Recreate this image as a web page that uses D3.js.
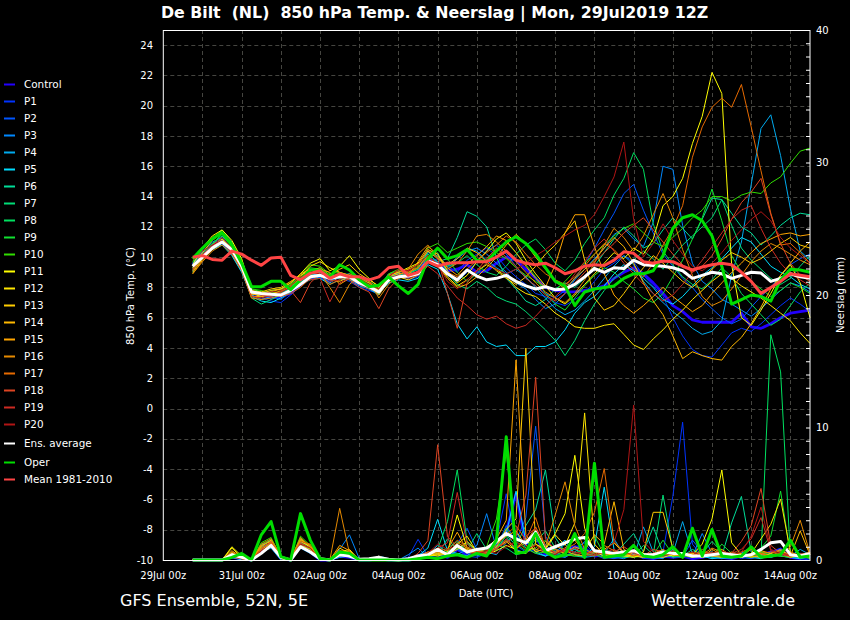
<!DOCTYPE html>
<html>
<head>
<meta charset="utf-8">
<script src="https://cdn.jsdelivr.net/npm/d3@7"></script>
<style>
  body { margin: 0; background: #000; }
  svg { display: block; font-family: "DejaVu Sans", sans-serif; }
</style>
</head>
<body>
<svg id="chart" width="850" height="620"></svg>
<script>
// ---------------------------------------------------------------------------
// data (6-hourly, 29Jul 18z -> 14Aug 12z)
var runStart = '2019-07-29T18:00:00Z';
var stepHours = 6;
var stepCount = 64;

var memberNames = ['Control','P1','P2','P3','P4','P5','P6','P7','P8','P9','P10',
  'P11','P12','P13','P14','P15','P16','P17','P18','P19','P20'];

var tempTicks = [-10,-8,-6,-4,-2,0,2,4,6,8,10,12,14,16,18,20,22,24];
var rainTicks = [0,10,20,30,40];
var dateTicks = ['2019-07-29','2019-07-31','2019-08-02','2019-08-04','2019-08-06',
  '2019-08-08','2019-08-10','2019-08-12','2019-08-14'];

// 850 hPa temperature (°C)
var tControl = [9.5,10.3,10.8,11.0,10.3,9.2,7.6,7.5,7.3,7.4, 7.6,8.2,8.6,8.7,8.4,8.8,8.6,8.2,8.0,7.8,
  8.8,8.9,8.7,9.0,9.9,9.6,9.1,9.2,9.5,9.0, 9.1,9.6,10.0,9.8,9.2,8.6,8.0,7.8,7.7,7.7,
  7.8,7.9,8.1,8.6,9.0,9.3,8.9,8.3,7.6,6.8, 6.4,5.85,5.7,5.7,5.7,5.7,6.3,5.4,5.3,5.6, 6.0,6.3,6.4,6.5];
var tP1 = [9.6,10.2,10.9,11.2,10.4,9.3,7.5,7.3,7.1,7.0, 7.5,8.1,8.8,8.9,8.5,8.6,8.4,8.0,7.8,7.6,
  8.6,8.8,8.5,8.7,9.6,9.9,9.4,9.0,9.8,10.2, 10.6,10.1,9.3,8.7,8.2,7.6,7.4,7.0,6.8,7.2,
  7.6,8.4,9.2,9.6,10.1,9.7,8.8,8.1,7.4,6.0, 4.8,3.9,3.5,3.4,4.2,5.0,5.3,5.1,5.6,6.2, 6.8,7.3,6.9,6.4];
var tP2 = [9.3,10.1,10.7,11.1,10.6,9.5,7.8,7.6,7.4,7.2, 7.7,8.3,8.9,9.0,8.4,8.8,8.9,8.3,8.1,7.9,
  8.7,9.0,8.8,8.9,9.8,9.5,8.8,8.4,9.0,9.7, 10.4,10.8,10.2,9.4,8.6,8.1,7.6,7.3,7.8,8.6,
  9.5,10.6,11.8,12.9,14.2,14.8,13.1,11.6,10.2,9.4, 8.6,8.0,7.2,6.6,6.0,5.6,5.9,6.7,7.4,8.0, 8.8,9.5,9.9,10.2];
var tP3 = [9.5,10.4,11.0,11.3,10.5,9.4,7.7,7.4,7.6,7.5, 7.9,8.4,8.6,8.7,8.5,8.9,8.8,8.4,8.2,7.9,
  8.6,8.9,8.6,9.1,10.0,9.7,9.2,9.9,10.4,10.6, 10.2,9.6,9.0,8.3,7.9,7.2,6.6,6.9,7.6,8.5,
  9.2,9.9,10.6,11.5,11.9,11.2,10.7,12.3,16.0,15.8, 12.1,9.6,8.4,7.9,7.2,6.9,6.5,6.1,6.6,7.2, 7.8,8.3,8.1,7.7];
var tP4 = [9.2,10.0,10.5,10.9,10.2,9.1,7.5,7.2,7.4,7.6, 8.0,8.5,8.9,8.8,8.3,8.7,8.5,8.1,7.9,7.5,
  8.4,8.7,8.9,9.2,10.3,10.1,9.4,10.0,10.6,10.4, 9.8,9.3,8.9,9.2,8.7,8.0,7.3,6.6,6.2,6.5,
  7.1,7.8,8.6,9.4,10.1,9.5,8.4,7.6,7.0,6.4, 5.9,5.3,4.9,5.1,5.8,8.8,11.0,14.8,18.5,19.4, 16.7,13.2,10.4,9.8];
var tP5 = [9.1,9.9,10.5,10.8,10.1,9.0,7.4,7.1,7.0,7.3, 7.7,8.3,8.7,8.6,8.2,8.5,8.6,8.2,7.9,7.6,
  8.3,8.5,8.4,8.6,9.5,9.2,7.6,5.6,4.6,5.4, 4.4,4.1,4.2,3.5,3.5,4.1,4.1,4.4,5.2,6.3,
  7.0,7.4,8.1,8.9,9.5,9.1,8.6,8.0,7.2,6.9, 7.4,8.1,8.8,9.3,9.9,10.6,11.3,11.0,10.2,9.4, 9.0,8.7,8.2,7.9];
var tP6 = [9.4,10.3,10.9,11.4,10.7,9.6,7.6,7.7,7.5,7.6, 7.9,8.2,8.5,8.6,8.9,8.7,8.5,8.4,8.1,7.7,
  8.5,8.6,8.9,9.3,10.2,9.7,9.9,11.3,13.0,12.7, 12.0,10.0,8.6,7.9,7.1,6.8,7.2,7.9,8.3,8.0,
  8.6,9.4,10.3,11.2,12.0,11.4,10.6,10.9,11.8,12.6, 11.9,11.2,12.5,13.9,13.8,12.9,12.0,11.6,10.8,11.4, 12.1,12.6,12.9,12.8];
var tP7 = [9.0,10.1,10.8,11.6,10.9,9.3,7.3,6.9,7.2,7.5, 8.0,8.6,8.9,9.0,8.7,8.9,8.6,8.5,8.3,7.8,
  8.7,8.9,8.8,8.9,9.9,10.3,8.9,8.2,7.9,8.4, 8.0,7.4,7.1,6.9,6.4,5.8,5.2,4.5,3.5,4.5,
  5.8,6.9,7.8,8.6,9.1,9.8,10.4,9.9,9.2,10.0, 10.8,11.4,12.0,12.6,13.8,12.1,10.6,9.8,9.2,8.6, 8.2,8.6,9.4,10.1];
var tP8 = [9.6,10.5,11.2,11.8,11.0,9.7,7.8,7.6,7.8,7.9, 8.1,8.4,8.8,9.1,8.6,8.7,8.9,8.6,8.4,8.0,
  8.9,9.1,8.9,9.2,10.4,10.0,9.4,9.6,10.1,9.5, 9.0,8.8,9.4,10.2,10.8,11.2,10.5,9.6,9.1,9.8,
  10.9,11.8,12.6,14.1,15.2,16.9,15.8,12.2,10.4,9.5, 8.7,8.2,7.9,8.5,9.3,8.7,7.6,6.9,6.2,5.5, 5.9,6.8,7.7,8.3];
var tP9 = [9.3,10.2,10.9,11.5,10.8,9.5,7.9,7.7,7.6,7.8, 8.2,8.7,9.3,9.2,8.8,8.6,8.7,8.3,8.0,7.6,
  8.5,8.8,8.7,8.9,9.7,10.5,9.9,9.0,8.4,8.9, 9.6,10.4,11.0,10.3,9.5,8.7,7.6,6.9,6.5,7.3,
  8.1,8.8,9.3,9.0,8.4,7.9,7.3,7.0,7.6,8.7, 9.8,11.2,12.6,14.5,12.4,10.1,9.0,8.4,7.9,7.4, 7.8,8.3,8.0,7.6];
var tP10 = [9.7,10.6,11.3,11.7,10.9,9.8,7.9,7.8,7.6,7.7, 8.2,8.8,9.5,9.4,8.9,9.0,8.8,8.5,8.2,7.8,
  8.9,9.2,9.0,9.4,10.6,10.9,10.3,10.6,10.9,11.0, 10.7,10.3,9.9,9.3,8.8,8.4,8.0,7.8,8.4,9.1,
  9.6,10.2,10.8,11.4,11.9,12.2,11.6,11.0,10.7,11.3, 11.9,12.6,13.1,14.0,14.0,13.7,14.1,14.3,14.2,14.9, 15.3,16.2,17.0,17.2];
var tP11 = [9.5,10.6,11.4,11.8,11.1,9.9,7.7,7.5,7.7,7.9, 8.3,8.9,9.6,9.9,9.1,9.4,10.1,9.2,8.6,8.0,
  8.8,9.0,9.3,9.6,10.5,10.2,9.1,8.3,8.8,9.7, 10.4,11.2,11.6,10.9,9.8,8.9,8.1,7.3,6.9,7.5,
  8.2,8.9,9.6,10.3,9.9,10.6,10.2,11.2,13.4,14.0, 15.2,17.5,19.3,22.2,20.8,9.5,6.0,5.5,6.5,7.6, 8.8,9.5,8.3,6.0];
var tP12 = [9.2,10.0,10.7,11.2,10.5,9.4,7.6,7.4,7.5,7.8, 8.1,8.7,9.4,9.7,9.3,9.0,8.8,8.4,8.1,7.8,
  8.6,8.7,8.5,8.8,9.8,9.5,8.7,8.1,8.5,9.1, 9.5,9.2,8.7,8.0,7.6,7.4,6.9,6.3,5.9,5.4,
  5.3,5.3,5.5,5.6,4.9,4.2,3.9,4.6,5.2,5.9, 6.5,7.2,7.8,8.4,8.9,8.6,8.1,7.7,7.3,6.8, 6.3,5.8,5.0,4.3];
var tP13 = [9.3,10.3,11.1,11.6,10.8,9.6,7.8,7.7,7.9,8.0, 8.4,8.8,9.1,9.3,8.8,9.2,9.5,8.9,8.5,8.1,
  8.8,9.0,9.2,9.5,10.4,9.9,9.5,9.9,10.6,10.3, 9.7,9.1,8.6,8.2,8.7,9.4,10.2,10.8,11.6,12.4,
  9.8,7.3,6.5,6.8,7.6,8.5,9.3,10.1,9.6,9.0, 8.4,8.0,8.6,9.2,9.8,10.3,10.0,9.6,9.9,10.4, 10.9,11.3,10.8,10.6];
var tP14 = [9.0,9.9,10.6,11.0,10.4,9.3,7.5,7.6,7.8,7.9, 8.3,8.9,9.2,9.1,8.5,8.4,8.7,8.6,8.3,7.8,
  8.7,8.9,9.0,9.3,10.1,9.4,8.6,8.0,8.2,8.7, 9.3,10.0,10.8,11.5,10.9,10.0,9.2,8.4,7.9,8.6,
  9.2,9.8,10.6,11.3,10.7,9.6,8.3,7.1,6.2,4.8, 3.3,3.75,3.5,3.3,3.2,4.1,4.7,5.6,6.7,7.9, 8.8,9.6,10.4,11.0];
var tP15 = [8.9,9.8,10.5,11.0,10.3,9.2,7.4,7.4,7.6,7.7, 8.1,8.6,8.9,9.2,9.0,8.2,8.6,8.4,8.1,7.5,
  8.4,8.6,8.8,9.7,10.7,10.2,9.3,8.8,9.5,10.1, 10.7,11.4,11.1,10.3,9.4,8.6,8.0,9.5,11.6,12.8,
  12.8,10.7,8.9,7.5,6.8,6.3,6.8,7.4,8.0,7.4, 6.9,6.4,6.8,7.6,8.3,9.0,9.6,10.3,10.9,11.2, 11.5,11.6,11.4,11.5];
var tP16 = [8.9,9.7,10.4,10.8,10.2,9.1,7.3,7.2,7.3,7.5, 7.9,8.5,9.0,8.9,8.0,7.0,8.2,8.7,8.4,7.3,
  8.2,8.8,9.2,10.2,10.8,10.0,9.2,9.6,10.4,11.4, 11.5,11.0,10.4,9.7,9.0,8.3,7.7,7.3,7.0,7.6,
  8.5,9.6,10.8,11.9,11.3,10.4,11.4,12.8,14.2,12.6, 10.5,8.8,7.4,6.8,7.1,7.9,8.8,9.7,10.4,10.9, 10.6,10.2,9.8,9.5];
var tP17 = [9.1,10.0,10.6,11.1,10.4,9.4,7.7,7.5,7.6,7.4, 7.6,8.0,8.6,8.8,8.2,8.5,8.9,8.7,8.4,7.9,
  8.8,9.1,9.0,9.3,10.0,9.6,9.0,8.7,9.2,9.8, 10.3,10.8,11.4,11.0,10.2,9.5,8.9,8.5,8.2,8.7,
  9.4,10.2,10.9,10.5,9.8,9.2,8.7,9.6,10.8,11.9, 13.4,16.6,18.6,19.9,20.5,19.9,21.4,18.6,15.7,12.9, 10.8,10.9,10.3,9.6];
var tP18 = [9.2,10.1,10.8,11.3,10.6,9.6,7.8,7.5,7.4,7.6, 7.8,7.0,8.3,8.9,8.6,8.8,8.5,8.0,7.7,6.6,
  7.9,8.6,9.1,9.5,10.5,9.9,7.6,5.3,8.3,9.1, 9.9,10.6,10.0,9.4,8.6,8.1,7.5,7.1,7.6,8.3,
  9.0,9.7,10.3,10.9,11.6,12.1,12.6,11.8,11.0,10.2, 9.5,9.0,9.4,10.1,11.2,12.5,13.6,14.3,15.2,12.8, 10.9,9.6,8.8,8.4];
var tP19 = [9.4,10.2,10.7,11.0,10.3,9.2,7.4,7.3,7.5,7.7, 8.0,8.3,8.5,8.6,7.05,8.3,8.6,8.2,7.9,7.7,
  8.6,8.8,8.6,8.8,9.4,8.9,8.1,7.3,6.8,6.2, 5.9,6.1,5.6,5.3,5.5,6.1,6.8,7.4,8.0,8.9,
  9.7,10.6,11.2,10.4,9.6,8.9,8.2,7.6,7.1,7.5, 8.2,9.0,9.8,10.7,11.6,12.5,13.1,13.4,11.9,10.6, 9.6,8.9,8.5,8.1];
var tP20 = [9.8,10.4,10.8,11.1,10.4,9.5,7.7,7.6,7.7,7.8, 8.1,8.7,9.0,8.9,8.4,8.5,8.8,8.6,8.2,7.9,
  8.7,9.2,9.1,9.5,10.1,9.5,8.4,7.9,8.5,9.1, 9.6,9.2,8.9,9.2,9.6,10.1,10.5,11.0,11.4,11.8,
  12.1,12.8,14.0,15.3,17.6,12.5,10.0,10.9,12.2,11.1, 10.2,9.4,9.1,9.6,10.3,11.1,11.8,12.5,13.0,12.4, 11.3,10.6,10.1,9.6];

var tAverage = [9.4,10.0,10.6,11.0,10.5,9.4,7.7,7.6,7.55,7.5, 7.8,8.2,8.7,8.8,8.6,8.7,8.7,8.3,8.05,7.7,
  8.5,8.7,8.75,8.9,9.75,9.5,8.9,8.5,9.15,8.75, 8.5,8.6,8.8,8.4,8.1,7.9,8.05,7.85,7.9,8.2,
  8.7,9.25,9.0,9.3,9.25,9.8,9.5,9.45,9.4,9.3, 9.1,8.6,8.8,9.0,8.9,8.6,8.8,9.0,8.95,8.4, 8.6,8.9,8.7,8.6];
var tOper = [9.9,10.6,11.2,11.6,10.8,9.6,8.05,8.05,8.4,8.4, 7.85,8.5,9.15,9.15,8.7,9.5,9.15,8.5,8.05,8.15,
  8.7,8.1,7.6,8.2,9.9,10.6,9.9,10.1,10.5,9.8, 9.7,10.4,11.0,11.35,10.9,10.2,9.3,8.4,8.1,6.8,
  7.7,7.9,8.0,8.1,8.6,8.9,8.9,9.1,10.1,11.9, 12.6,12.8,12.4,11.4,9.4,6.9,7.2,7.5,7.4,7.1, 8.5,9.2,9.15,9.0];
var tClimate = [10.0,10.1,9.85,9.8,10.4,10.2,9.8,9.46,9.94,10.0, 8.8,8.5,8.93,9.1,8.6,8.9,8.7,8.7,8.5,8.7,
  9.3,9.4,8.8,9.0,9.7,9.4,9.6,9.63,9.63,9.7, 9.7,10.0,10.4,9.8,9.6,9.5,9.6,9.3,8.9,9.1,
  9.4,9.5,9.45,9.8,10.35,10.25,9.7,9.6,9.75,9.7, 9.4,9.15,9.35,9.5,9.6,9.5,9.0,8.4,7.6,8.0, 8.4,8.9,8.8,8.7];

// precipitation per 6 h (mm)
var pControl = [0,0,0,0,0.2,0.1,0,0.7,1.1,0.1, 0,1.0,0.6,0,0,0.3,0.2,0,0,0.1,
  0,0,0,0.1,0.3,0.5,0.2,0.8,0.4,0.6, 0.5,1.2,2.1,5.0,1.2,1.8,0.4,0.6,0.8,1.0,
  0.9,0.3,0.4,0.2,0.3,0.5,0.2,0.1,0.3,0.2, 0.3,0.1,0.2,0.4,0.2,0.1,0.3,0.2,0.4,0.6, 0.8,0.2,0.1,0.3];
var pP1 = [0,0,0,0,0.4,0.1,0,0.8,1.2,0.1, 0,1.2,0.8,0,0,0.2,0.4,0,0,0.2,
  0,0,0.2,1.56,0.3,0.2,0.6,0.9,0.3,0.2, 0.5,1.4,5.0,1.1,0.6,0.8,0.3,0.5,0.2,0.9,
  1.3,0.4,0.1,0.3,0.2,0.5,0.1,0.2,0.6,4.8, 10.4,1.2,0.3,0.1,0.2,0.4,0.1,0.3,0.2,0.5, 0.9,0.2,0.1,0];
var pP2 = [0,0,0,0,0.3,0,0,1.0,1.3,0.2, 0,1.4,0.7,0.1,0,0.3,0.3,0,0,0.1,
  0,0,0,0.4,0.6,0.4,0.3,1.2,2.4,0.8, 0.4,0.9,2.6,1.4,3.2,10.1,1.8,0.6,0.3,0.5,
  0.8,0.4,0.2,0.1,0.3,0.2,0.4,0.1,0.2,0.3, 0.2,1.5,0.6,0.2,0.1,0.3,0.2,0.1,0.3,0.2, 0.4,0.3,0.1,0.2];
var pP3 = [0,0,0,0,0.5,0.2,0,0.9,1.0,0.1, 0,1.1,0.9,0,0,0.8,1.9,0.1,0,0.3,
  0.1,0,0.4,0.9,0.2,0.5,0.4,0.8,0.6,1.1, 3.5,0.9,1.6,0.8,0.5,1.9,1.2,0.3,0.2,0.6,
  1.4,0.8,0.3,0.2,0.1,0.4,0.3,0.2,0.1,0.8, 0.4,0.3,2.0,0.5,0.2,0.1,0.6,0.3,0.2,0.4, 0.3,0.2,0.5,0.2];
var pP4 = [0,0,0,0,0.3,0.1,0,0.6,0.9,0, 0,0.9,0.5,0,0,0.2,0.3,0,0,0,
  0,0,0,0.2,0.4,1.1,0.6,0.4,0.8,0.3, 0.6,0.4,1.3,2.1,0.9,0.5,0.3,0.6,1.2,0.4,
  0.2,0.3,0.5,1.6,0.4,0.2,2.5,0.6,0.3,0.5, 2.9,0.4,0.2,0.3,0.1,0.2,0.4,0.9,0.3,0.2, 0.5,0.3,0.8,0.4];
var pP5 = [0,0,0,0,0.2,0,0,0.8,1.4,0.1, 0,1.3,0.6,0,0,0.4,0.5,0,0,0.1,
  0,0,0,0.3,0.9,3.07,0.7,0.5,0.3,0.9, 0.6,1.2,2.0,5.2,1.4,0.6,0.3,0.9,1.5,0.4,
  0.3,1.0,5.5,0.8,0.2,0.3,0.4,0.2,0.6,0.3, 0.4,0.2,0.3,0.1,0.2,0.3,0.5,0.2,0.1,0.4, 0.3,0.2,0.1,0.3];
var pP6 = [0,0,0,0,0.3,0.1,0,1.1,1.5,0.2, 0,1.6,0.9,0.1,0,0.3,0.4,0,0,0,
  0,0,0,0.2,0.5,0.4,1.6,0.8,1.3,0.6, 1.0,0.7,1.9,1.1,2.6,3.8,6.8,1.7,0.6,0.8,
  0.5,0.3,0.9,0.4,1.2,2.0,0.6,2.5,0.5,0.2, 0.3,0.8,0.4,0.2,0.3,2.8,4.8,0.6,0.3,0.2, 0.5,0.3,0.2,0.4];
var pP7 = [0,0,0,0,0.2,0.3,0,1.2,1.4,0.2, 0,1.5,0.8,0,0,0.5,0.2,0,0,0,
  0,0,0,0.1,0.3,0.6,0.9,1.4,0.7,2.0, 0.8,1.1,0.9,0.4,0.6,1.3,2.2,0.9,0.4,0.3,
  0.2,0.6,0.3,0.5,0.4,0.3,1.1,0.4,4.9,0.7, 0.3,0.2,0.5,1.4,0.6,0.3,0.2,0.4,0.6,0.3, 0.5,0.2,0.3,0.1];
var pP8 = [0,0,0,0,0.4,0.2,0,1.0,1.6,0.3, 0,1.7,1.0,0.1,0,0.6,0.4,0,0,0.1,
  0,0,0,0.3,0.4,0.8,2.9,6.8,1.4,0.6, 0.4,0.9,1.8,0.6,0.5,1.6,0.8,0.4,0.3,0.6,
  0.5,0.3,0.6,0.4,0.2,0.3,0.5,0.2,0.4,0.3, 0.2,0.4,0.3,0.6,0.2,0.3,0.4,0.2,0.3,17.0, 14.2,0.3,0.2,0.4];
var pP9 = [0,0,0,0,0.3,0.2,0,0.9,1.2,0.1, 0,1.3,0.8,0,0,0.4,0.6,0,0,0,
  0,0,0,0.2,0.5,0.3,0.7,1.1,0.5,0.8, 0.6,0.8,2.4,1.2,0.7,0.9,1.5,0.6,0.3,0.5,
  0.9,1.8,0.4,0.3,0.2,0.6,0.3,0.4,1.5,0.4, 0.2,0.6,0.4,0.3,1.2,0.5,0.3,0.2,0.9,1.8, 5.2,0.4,0.2,0.3];
var pP10 = [0,0,0,0,0.3,0.2,0,1.3,1.7,0.2, 0,1.8,1.1,0.1,0,0.5,0.4,0,0,0,
  0,0,0,0.2,0.3,0.5,0.4,0.9,0.6,0.5, 1.0,3.1,8.1,1.4,0.9,0.5,0.6,0.8,0.4,0.3,
  0.6,0.4,0.2,0.3,0.5,0.2,0.3,0.4,0.6,0.3, 0.4,0.2,0.3,0.5,0.2,0.4,0.3,0.2,0.6,0.4, 0.3,0.2,0.4,0.2];
var pP11 = [0,0,0,0,1.0,0.3,0,0.9,1.3,0.3, 0,1.4,1.0,0.1,0,0.5,0.7,0,0,0.2,
  0,0,0,0.1,0.3,0.4,0.6,3.4,0.9,0.5, 0.4,0.7,1.1,0.8,1.6,0.6,0.9,2.0,3.5,7.9,
  2.4,0.6,0.3,0.5,0.4,0.3,0.2,0.4,0.6,0.3, 0.5,0.4,1.2,3.1,6.8,1.3,0.4,0.3,0.2,0.5, 0.7,0.3,0.4,0.2];
var pP12 = [0,0,0,0,0.9,0.2,0,0.8,1.2,0.2, 0,1.2,0.9,0,0,0.6,0.8,0,0,0.1,
  0,0,0,0.2,0.4,0.3,0.5,1.2,1.8,0.6, 0.3,0.9,1.4,0.7,0.5,1.2,0.8,1.9,1.1,2.8,
  11.1,1.2,0.4,0.6,0.3,0.2,0.5,0.3,0.2,0.4, 0.3,0.5,0.2,0.4,0.6,0.3,0.2,0.5,1.6,2.7, 4.6,0.6,0.3,0.2];
var pP13 = [0,0,0,0,0.6,0.1,0,0.7,1.1,0.1, 0,1.1,0.8,0,0,0.9,0.5,0,0,0.2,
  0,0,0,0.1,0.3,0.5,0.4,0.8,1.4,0.7, 0.5,1.0,2.3,3.1,16.0,1.2,0.7,0.5,0.9,1.5,
  0.6,0.4,0.8,1.3,0.5,0.3,0.6,3.6,3.6,0.9, 0.4,0.3,0.6,0.4,0.8,0.3,0.2,0.4,0.5,0.3, 0.6,0.4,0.2,0.5];
var pP14 = [0,0,0,0,0.5,0.1,0,1.0,1.5,0.2, 0,1.6,1.0,0.1,0,0.7,0.6,0,0,0.1,
  0,0,0,0.2,0.4,0.6,0.3,1.0,0.8,0.4, 0.6,1.3,1.8,2.2,1.1,0.7,1.4,0.8,0.5,1.0,
  0.7,1.9,1.2,4.4,0.8,0.4,0.2,0.5,0.3,0.6, 0.4,0.2,0.5,0.3,0.2,0.6,0.4,0.3,0.7,0.5, 0.8,0.3,2.2,0.4];
var pP15 = [0,0,0,0,0.7,0.2,0,1.1,1.4,0.2, 0,1.5,1.1,0.1,0,1.1,0.7,0,0,0.2,
  0,0,0,0.3,0.6,0.4,0.8,2.1,0.7,0.5, 0.9,1.6,3.0,15.1,1.9,0.8,0.6,1.1,0.7,0.4,
  0.3,0.8,0.5,0.4,0.6,0.3,0.5,0.2,0.4,0.6, 0.3,0.5,0.2,0.8,0.4,0.3,0.5,0.2,0.4,0.3, 0.5,0.2,0.4,0.6];
var pP16 = [0,0,0,0,0.6,0.2,0,1.2,1.6,0.3, 0,1.7,1.0,0.1,0,3.9,0.5,0,0,0.3,
  0,0,0,0.2,0.5,0.6,0.5,1.3,0.9,0.6, 0.5,0.8,1.5,0.9,1.3,2.5,1.0,3.4,5.9,2.6,
  0.8,0.5,1.1,0.7,0.4,0.6,0.3,0.5,0.8,0.4, 0.3,0.6,0.4,0.9,0.6,0.4,0.3,0.8,0.5,0.6, 0.4,1.0,3.0,0.5];
var pP17 = [0,0,0,0,0.4,0.1,0,0.9,1.3,0.2, 0,1.4,1.2,0.1,0,0.6,0.4,0,0,0.1,
  0,0,0,0.2,0.6,0.9,0.7,1.5,1.0,0.6, 0.7,1.1,1.9,2.6,1.5,3.2,0.9,0.6,0.8,1.2,
  2.0,3.6,6.9,1.4,0.6,0.3,0.5,0.4,0.6,0.5, 0.3,0.4,0.6,0.5,0.3,0.4,0.6,0.9,0.5,0.3, 0.4,0.6,0.3,0.5];
var pP18 = [0,0,0,0,0.3,0.1,0,0.8,1.4,0.2, 0,1.3,0.9,0,0,0.4,0.6,0,0,0.2,
  0,0,0,0.5,1.46,8.7,1.76,1.0,0.7,0.5, 0.6,0.9,1.3,1.8,4.9,13.8,1.6,0.8,0.6,0.9,
  0.5,0.7,0.4,0.6,1.0,0.5,0.3,0.8,0.6,0.4, 0.5,0.3,0.8,0.4,0.6,0.5,1.4,2.6,5.4,1.1, 0.5,0.3,0.4,0.2];
var pP19 = [0,0,0,0,0.2,0.1,0,0.6,1.0,0.1, 0,1.0,0.7,0,0,0.3,0.4,0,0,0.1,
  0,0,0,0.3,0.4,0.9,1.3,5.1,1.2,0.6, 0.5,0.8,1.6,0.9,1.8,2.4,0.9,0.5,0.7,0.6,
  0.4,0.3,0.6,0.8,0.4,0.6,0.3,0.5,0.4,0.7, 0.5,0.3,0.4,0.6,0.3,0.5,0.8,1.6,3.2,0.7, 0.4,0.3,0.5,0.3];
var pP20 = [0,0,0,0,0.3,0.1,0,0.7,1.2,0.2, 0,1.2,0.9,0,0,0.5,0.3,0,0,0.2,
  0,0,0,0.3,0.5,1.2,0.8,1.1,0.6,0.4, 0.7,0.5,1.0,1.4,0.8,1.1,0.6,0.4,0.9,0.5,
  0.6,0.4,0.7,1.3,3.8,11.7,1.4,0.6,0.3,0.5, 0.4,0.6,0.3,0.5,0.7,0.4,0.6,1.8,4.0,0.8, 0.5,0.4,0.3,0.6];

var pAverage = [0,0,0,0,0.4,0.2,0,0.5,1.1,0.2, 0,1.0,0.6,0.1,0,0.4,0.3,0.05,0.1,0.2,
  0.05,0,0.1,0.3,0.4,0.8,0.4,1.1,0.6,0.8, 0.9,1.4,2.0,1.6,1.3,2.1,0.7,1.0,1.3,1.6,
  1.7,0.7,0.6,0.5,0.6,0.7,0.4,0.4,0.6,0.5, 0.5,0.3,0.3,0.4,0.5,0.4,0.3,0.4,0.8,1.3, 1.4,0.4,0.3,0.5];
var pOper = [0,0,0,0,0.2,0.5,0,1.9,2.9,0.25, 0,3.5,1.5,0.1,0,0.6,0.5,0,0,0,
  0,0,0,0.1,0.2,0.1,0.3,0.4,0.2,0.5, 0.3,1.5,9.3,0.5,0.6,2.0,0.6,0.2,0.4,2.0,
  0.2,7.3,0.2,0.3,0.4,1.1,0.3,0.2,0.4,1.0, 0.2,2.4,0.3,2.3,0.3,0.2,0.3,1.0,0.2,0.3, 0.4,1.5,0.2,0.3];

// ---------------------------------------------------------------------------
// styles
var memberColors = ['#2200ff','#0033ff','#0055ff','#0088ff','#00aaee','#00ddff','#00dd99','#00dd77',
  '#00e060','#10e030','#30dd00','#ffff00','#ffe600','#ffcc00','#ffb800','#ffa500','#e68a00',
  '#e66a00','#dd4422','#cc2a22','#b01515'];
var colAverage = '#ffffff', colOper = '#00dd00', colClimate = '#ff4444';
var gridColor = '#454540';

var memberTemps = [tControl,tP1,tP2,tP3,tP4,tP5,tP6,tP7,tP8,tP9,tP10,tP11,tP12,tP13,tP14,tP15,tP16,tP17,tP18,tP19,tP20];
var memberRain = [pControl,pP1,pP2,pP3,pP4,pP5,pP6,pP7,pP8,pP9,pP10,pP11,pP12,pP13,pP14,pP15,pP16,pP17,pP18,pP19,pP20];

var W = 850, H = 620;
var box = {left: 163.3, right: 810, top: 30, bottom: 560};

var svg = d3.select('#chart');
svg.append('rect').attr('width', W).attr('height', H).attr('fill', '#000');

var t0 = new Date(runStart);
var times = d3.range(stepCount).map(function(i) { return d3.utcHour.offset(t0, i * stepHours); });

var x = d3.scaleUtc()
  .domain([new Date('2019-07-29T00:00:00Z'), new Date('2019-08-14T12:00:00Z')])
  .range([box.left, box.right]);
var yT = d3.scaleLinear().domain([-10, 25]).range([box.bottom, box.top]);
var yP = d3.scaleLinear().domain([0, 40]).range([box.bottom, box.top]);

//grid
var grid = svg.append('g').attr('stroke', gridColor).attr('stroke-width', 1).attr('stroke-dasharray', '4,3');
grid.selectAll('line.h').data(tempTicks.filter(function(v) { return v > -10; }))
  .enter().append('line').attr('class', 'h')
  .attr('x1', box.left).attr('x2', box.right)
  .attr('y1', function(d) { return Math.round(yT(d)) + 0.5; })
  .attr('y2', function(d) { return Math.round(yT(d)) + 0.5; });
grid.selectAll('line.v').data(d3.utcDay.range(new Date('2019-07-30T00:00:00Z'), new Date('2019-08-14T12:00:00Z')))
  .enter().append('line').attr('class', 'v')
  .attr('y1', box.top).attr('y2', box.bottom)
  .attr('x1', function(d) { return Math.round(x(d)) + 0.5; })
  .attr('x2', function(d) { return Math.round(x(d)) + 0.5; });

var tempLine = d3.line().x(function(d, i) { return x(times[i]); }).y(function(d) { return yT(d); });
var rainLine = d3.line().x(function(d, i) { return x(times[i]); }).y(function(d) { return yP(d); });

var plot = svg.append('g').attr('fill', 'none').attr('stroke-linejoin', 'round');

// members : rain and temp, control drawn thick
memberNames.forEach(function(name, k) {
  var w = k === 0 ? 2.8 : 1;
  plot.append('path').attr('d', rainLine(memberRain[k])).attr('stroke', memberColors[k]).attr('stroke-width', w);
  plot.append('path').attr('d', tempLine(memberTemps[k])).attr('stroke', memberColors[k]).attr('stroke-width', w);
});

plot.append('path').attr('d', rainLine(pAverage)).attr('stroke', colAverage).attr('stroke-width', 3);
plot.append('path').attr('d', tempLine(tAverage)).attr('stroke', colAverage).attr('stroke-width', 3);
plot.append('path').attr('d', rainLine(pOper)).attr('stroke', colOper).attr('stroke-width', 3);
plot.append('path').attr('d', tempLine(tOper)).attr('stroke', colOper).attr('stroke-width', 3);
plot.append('path').attr('d', tempLine(tClimate)).attr('stroke', colClimate).attr('stroke-width', 3);

// frame
svg.append('rect').attr('x', box.left).attr('y', box.top + 0.5)
  .attr('width', box.right - box.left).attr('height', box.bottom - box.top)
  .attr('fill', 'none').attr('stroke', '#fff').attr('stroke-width', 1);

// left axis labels (no tick marks)
svg.append('g').selectAll('text').data(tempTicks).enter().append('text')
  .attr('x', 153).attr('y', function(d) { return yT(d); }).attr('dy', '0.35em')
  .attr('text-anchor', 'end').attr('fill', '#fff').attr('font-size', 10)
  .text(function(d) { return d; });

// right axis
var rightAxis = d3.axisRight(yP).tickValues(d3.range(0, 41, 1)).tickSize(-4).tickFormat('');
svg.append('g').attr('transform', 'translate(' + box.right + ',0)').call(rightAxis)
  .call(function(g) { g.select('.domain').remove(); g.selectAll('line').attr('stroke', '#fff'); });
svg.append('g').selectAll('text').data(rainTicks).enter().append('text')
  .attr('x', 816).attr('y', function(d) { return yP(d); }).attr('dy', '0.35em')
  .attr('fill', '#fff').attr('font-size', 10)
  .text(function(d) { return d; });

// date labels
var fmt = d3.utcFormat('%d%b %Hz');
svg.append('g').selectAll('text').data(dateTicks).enter().append('text')
  .attr('x', function(d) { return x(new Date(d + 'T00:00:00Z')); }).attr('y', 579)
  .attr('text-anchor', 'middle').attr('fill', '#fff').attr('font-size', 10)
  .text(function(d) { return fmt(new Date(d + 'T00:00:00Z')); });

// titles
svg.append('text').attr('x', 434.5).attr('y', 18).attr('text-anchor', 'middle')
  .attr('fill', '#fff').attr('font-size', 15.8).attr('font-weight', 'bold')
  .style('white-space', 'pre')
  .text('De Bilt  (NL)  850 hPa Temp. & Neerslag | Mon, 29Jul2019 12Z');
svg.append('text').attr('x', 486).attr('y', 597).attr('text-anchor', 'middle')
  .attr('fill', '#fff').attr('font-size', 10).text('Date (UTC)');
svg.append('text').attr('transform', 'translate(134,296) rotate(-90)').attr('text-anchor', 'middle')
  .attr('fill', '#fff').attr('font-size', 10.2).text('850 hPa Temp. (°C)');
svg.append('text').attr('transform', 'translate(844,295) rotate(-90)').attr('text-anchor', 'middle')
  .attr('fill', '#fff').attr('font-size', 10.2).text('Neerslag (mm)');
svg.append('text').attr('x', 120).attr('y', 606).attr('fill', '#fff').attr('font-size', 16)
  .text('GFS Ensemble, 52N, 5E');
svg.append('text').attr('x', 795).attr('y', 606).attr('text-anchor', 'end').attr('fill', '#fff').attr('font-size', 16)
  .text('Wetterzentrale.de');

// legend
var legendItems = memberNames.map(function(n, k) { return {name: n, color: memberColors[k], y: 84 + k * 17}; });
legendItems.push({name: 'Ens. average', color: colAverage, y: 443});
legendItems.push({name: 'Oper', color: colOper, y: 462});
legendItems.push({name: 'Mean 1981-2010', color: colClimate, y: 479});

var legend = svg.append('g');
var row = legend.selectAll('g').data(legendItems).enter().append('g')
  .attr('transform', function(d) { return 'translate(0,' + d.y + ')'; });
row.append('line').attr('x1', 4).attr('x2', 15).attr('y1', 0.5).attr('y2', 0.5)
  .attr('stroke', function(d) { return d.color; }).attr('stroke-width', 2);
row.append('text').attr('x', 24).attr('y', 0).attr('dy', '0.35em')
  .attr('fill', '#fff').attr('font-size', 10.4).text(function(d) { return d.name; });
</script>
</body>
</html>
